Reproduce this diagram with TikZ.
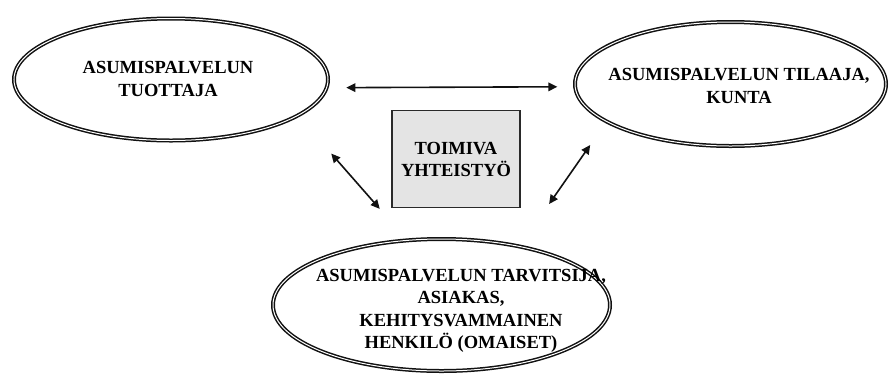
\documentclass[tikz,border=0pt]{standalone}
\usepackage{fontspec}
\setmainfont{Liberation Serif}
\usetikzlibrary{arrows.meta,shapes.geometric}
\definecolor{viiva}{HTML}{111111}
\definecolor{laatikko}{HTML}{E4E4E4}

\begin{document}
\begin{tikzpicture}[
  x=1pt, y=-1pt,
  >={Triangle[length=9pt,width=8.5pt]},
  kupla/.style={ellipse, draw=viiva, double, double distance=1pt, line width=1.5pt, inner sep=0pt},
  teksti/.style={align=center, font=\fontsize{18.5}{22.5}\selectfont\bfseries, inner sep=0pt},
  ruutu/.style={draw=viiva!90, fill=laatikko, line width=1.6pt, minimum width=128pt, minimum height=97pt, align=center, font=\fontsize{18.5}{22}\selectfont\bfseries},
  arr/.style={<->, line width=1.6pt, color=viiva},
]
\useasboundingbox (0,0) rectangle (890,376);

\node[kupla, minimum width=314pt, minimum height=122pt] (tuottaja) at (171,79.5) {};
\node[kupla, minimum width=311pt, minimum height=124pt] (tilaaja) at (730.5,84) {};
\node[kupla, minimum width=337pt, minimum height=132pt] (tarvitsija) at (441.5,305) {};

\node[teksti] (tuottajateksti) at (168,79) {ASUMISPALVELUN\\TUOTTAJA};
\node[teksti] (tilaajateksti) at (739,86) {ASUMISPALVELUN TILAAJA,\\KUNTA};
\node[teksti] (tarvitsijateksti) at (461,311) {ASUMISPALVELUN TARVITSIJA,\\ASIAKAS,\\KEHITYSVAMMAINEN\\HENKILÖ (OMAISET)};

\node[ruutu] (yhteistyo) at (456,159) {TOIMIVA\\YHTEISTYÖ};

\draw[arr, shorten <=19pt, shorten >=17pt] (tuottaja.-3.3) -- (tilaaja.181.5);
\draw[arr, shorten <=50pt, shorten >=41pt] (tuottaja.-16.4) -- (tarvitsija.118.5);
\draw[arr, shorten <=51pt, shorten >=28pt] (tarvitsija.37.1) -- (tilaaja.197.9);

\end{tikzpicture}
\end{document}
